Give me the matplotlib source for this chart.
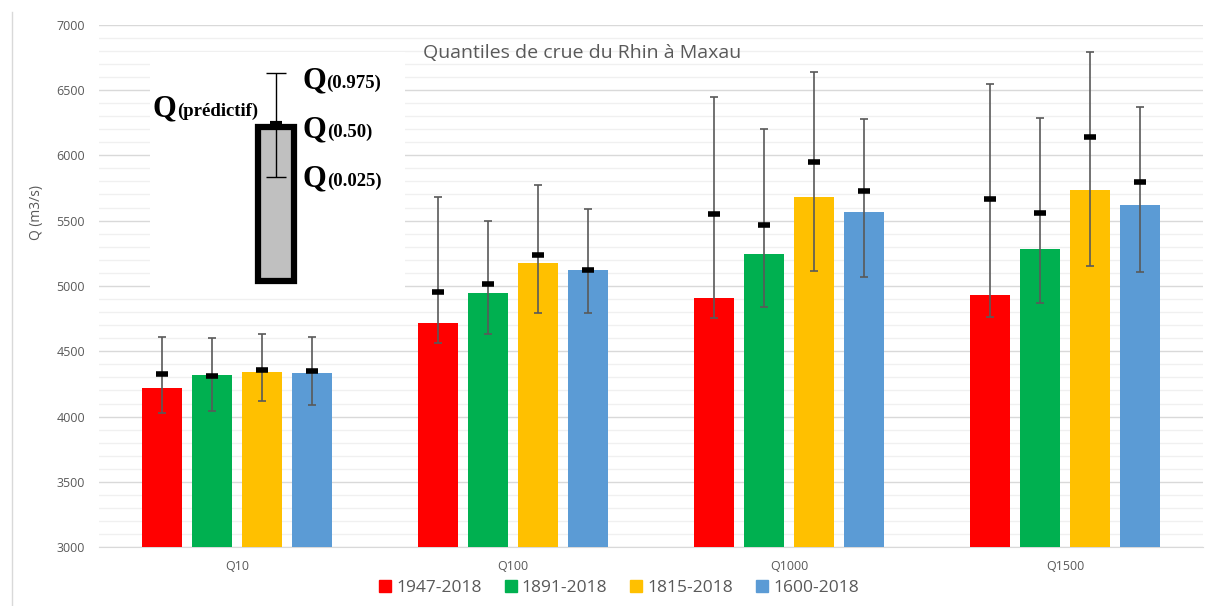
import matplotlib
matplotlib.use("Agg")
import matplotlib.pyplot as plt
import numpy as np
from matplotlib.patches import Rectangle
from matplotlib.lines import Line2D

plt.rcParams["font.family"] = ["Open Sans", "DejaVu Sans"]

# ── données ──────────────────────────────────────────────
categories = ["Q10", "Q100", "Q1000", "Q1500"]
periods = ["1947-2018", "1891-2018", "1815-2018", "1600-2018"]
colors = ["#FF0000", "#00B050", "#FFC000", "#5B9BD5"]

# hauteur des barres : Q(0.50)
q50 = [
    [4217, 4719, 4910, 4928],   # 1947-2018
    [4319, 4949, 5242, 5281],   # 1891-2018
    [4342, 5176, 5681, 5737],   # 1815-2018
    [4331, 5120, 5564, 5622],   # 1600-2018
]
# Q prédictif (trait noir)
q_pred = [
    [4326, 4951, 5553, 5663],
    [4313, 5013, 5466, 5558],
    [4355, 5240, 5951, 6138],
    [4349, 5125, 5730, 5796],
]
# bornes de l'intervalle
q025 = [
    [4030, 4566, 4752, 4762],
    [4043, 4630, 4839, 4867],
    [4120, 4795, 5117, 5153],
    [4089, 4790, 5068, 5109],
]
q975 = [
    [4612, 5678, 6446, 6543],
    [4602, 5497, 6199, 6285],
    [4632, 5774, 6637, 6791],
    [4612, 5591, 6274, 6370],
]

# exemple de la vignette explicative (échelle arbitraire)
demo_q50 = 163
demo_pred = 167
demo_q025 = 113
demo_q975 = 217

GRAY_TXT = "#595959"

fig = plt.figure(figsize=(12.08, 6.06), dpi=100)
ax = fig.add_axes([0.082, 0.0969, 0.914, 0.8625])

x = np.arange(len(categories))
step = 0.181
width = 0.143

for i, (lab, col) in enumerate(zip(periods, colors)):
    xs = x + (i - 1.5) * step
    ax.bar(xs, np.array(q50[i]) - 3000, bottom=3000, width=width,
           color=col, zorder=3, label=lab)
    lo = np.array(q_pred[i]) - np.array(q025[i])
    hi = np.array(q975[i]) - np.array(q_pred[i])
    ax.errorbar(xs, q_pred[i], yerr=[lo, hi], fmt="none", ecolor="#595959",
                elinewidth=1.2, capsize=3, capthick=1.2, zorder=4)
    ax.plot(xs, q_pred[i], linestyle="none", marker="_", markersize=9,
            markeredgewidth=4, color="black", zorder=5)

ax.set_xlim(-0.5, 3.5)
ax.set_ylim(3000, 7000)
ax.set_xticks(x)
ax.set_xticklabels(categories)
ax.set_yticks(np.arange(3000, 7001, 500))
ax.set_yticks(np.arange(3000, 7001, 100), minor=True)
ax.grid(which="major", axis="y", color="#D9D9D9", linewidth=1.0, zorder=0)
ax.grid(which="minor", axis="y", color="#F0F0F0", linewidth=1.0, zorder=0)
ax.tick_params(axis="both", which="both", length=0, labelsize=9, labelcolor=GRAY_TXT)
ax.tick_params(axis="x", pad=9)
ax.tick_params(axis="y", pad=10)
for s in ["top", "right", "left"]:
    ax.spines[s].set_visible(False)
ax.spines["bottom"].set_color("#D9D9D9")
ax.set_axisbelow(True)

ax.set_ylabel("Q (m3/s)", fontsize=10, color=GRAY_TXT)
ax.yaxis.set_label_coords(-0.05, 0.64)

fig.text(582 / 1208, 1 - 53 / 606, "Quantiles de crue du Rhin à Maxau",
         ha="center", va="center", fontsize=14, color=GRAY_TXT)

# légende
handles = [Rectangle((0, 0), 1, 1, color=c) for c in colors]
fig.legend(handles, periods, loc="center", bbox_to_anchor=(619 / 1208, 1 - 588 / 606),
           ncol=4, frameon=False, fontsize=12.5, labelcolor=GRAY_TXT,
           handlelength=0.7, handleheight=0.7, handletextpad=0.3, columnspacing=1.3)

# cadre du graphique
fig.add_artist(Line2D([12 / 1208, 12 / 1208], [0, 1 - 12 / 606],
                      transform=fig.transFigure, color="#D9D9D9", linewidth=1))

# ── vignette explicative ─────────────────────────────────
ins = fig.add_axes([150 / 1208, 1 - 290 / 606, 255 / 1208, 238 / 606], zorder=10)
ins.set_xlim(0, 255)
ins.set_ylim(0, 238)
ins.set_facecolor("white")
ins.axis("off")
ins.add_patch(Rectangle((0, 0), 1, 1, transform=ins.transAxes, color="white", zorder=0))
ins.bar([126], [demo_q50 - 9], bottom=9, width=36, color="#C0C0C0",
        edgecolor="black", linewidth=4.5, zorder=2)
ins.errorbar([126], [demo_pred], yerr=[[demo_pred - demo_q025], [demo_q975 - demo_pred]],
             fmt="none", ecolor="black", elinewidth=1, capsize=7, capthick=1, zorder=3)
ins.plot([126], [demo_pred], linestyle="none", marker="_", markersize=9,
         markeredgewidth=3, color="black", zorder=4)

serif = dict(family="Liberation Serif", weight="bold", color="black")


def qlabel(px, py, sub):
    t = ins.text(px, py, "Q", fontsize=22, va="baseline", ha="left", **serif)
    ins.annotate(sub, xy=(1, 0.12), xycoords=t, va="bottom", ha="left",
                 fontsize=13.5, **serif)


qlabel(152, 202, "(0.975)")
qlabel(3, 174, "(prédictif)")
qlabel(153, 153, "(0.50)")
qlabel(153, 104, "(0.025)")

fig.savefig("out.png", dpi=100)
